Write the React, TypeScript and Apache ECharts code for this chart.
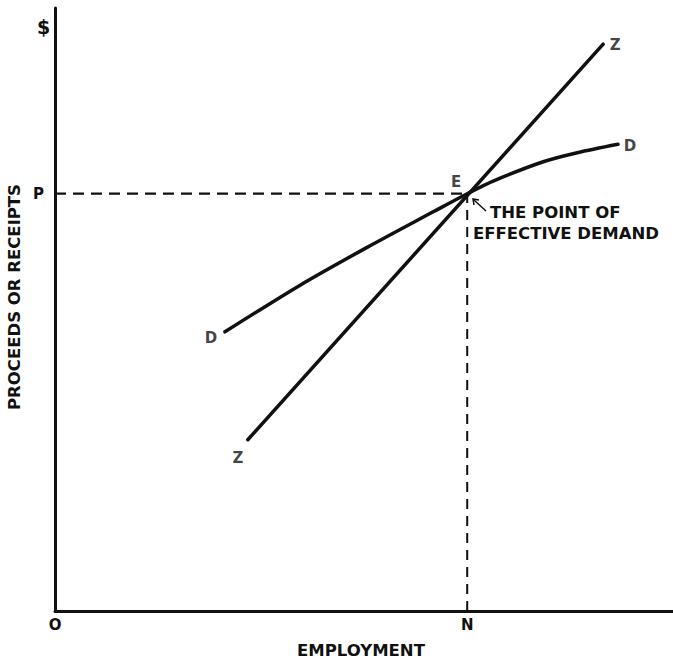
import React, { useEffect, useRef } from "react";
import * as echarts from "echarts";

// Employment (x) and proceeds (y) in arbitrary units, 0..100
const N_VALUE = 66.7;
const P_VALUE = 69.2;

const dCurveX = [27.5, 39.6, 50.5, 61.2, 66.7, 70.9, 79.0, 84.5, 91.1];
const dCurveY = [46.3, 54.0, 60.3, 66.2, 69.2, 71.3, 74.5, 76.0, 77.4];

const zLineX = [31.2, 88.7];
const zLineY = [28.4, 94.0];

const xTickValues = [0, N_VALUE];
const xTickLabels = ["O", "N"];
const yTickValues = [P_VALUE];
const yTickLabels = ["P"];

const FONT = "DejaVu Sans";
const INK = "#111";
const FS = 16.5;

export default function App() {
  const ref = useRef<HTMLDivElement>(null);
  useEffect(() => {
    if (!ref.current) return;
    const chart = echarts.init(ref.current, null, { renderer: "svg" });
    const lbl = (text: string, dx: number, dy: number, size = 15) => ({
      show: true,
      formatter: text,
      position: "inside",
      offset: [dx, dy],
      color: INK,
      fontFamily: FONT,
      fontWeight: "bold",
      fontSize: size,
    });
    chart.setOption({
      animation: false,
      backgroundColor: "#fff",
      grid: { left: 55, right: 0, top: 8, bottom: 48 },
      xAxis: {
        type: "value",
        min: 0,
        max: 100,
        axisLine: { show: true, lineStyle: { color: INK, width: 3 } },
        axisTick: { show: false },
        splitLine: { show: false },
        axisLabel: {
          customValues: xTickValues,
          formatter: (v: number) => xTickLabels[xTickValues.indexOf(v)] ?? "",
          color: INK,
          fontFamily: FONT,
          fontWeight: "bold",
          fontSize: 15,
          margin: 6,
        },
      },
      yAxis: {
        type: "value",
        min: 0,
        max: 100,
        axisLine: { show: true, lineStyle: { color: INK, width: 3 } },
        axisTick: { show: false },
        splitLine: { show: false },
        axisLabel: {
          customValues: yTickValues,
          formatter: (v: number) => yTickLabels[yTickValues.indexOf(v)] ?? "",
          color: INK,
          fontFamily: FONT,
          fontWeight: "bold",
          fontSize: 15,
          margin: 11,
        },
      },
      series: [
        {
          type: "line",
          data: [
            [0, P_VALUE],
            [N_VALUE, P_VALUE],
          ],
          symbol: "none",
          lineStyle: { color: INK, width: 2.2, type: [11, 7] },
          z: 1,
        },
        {
          type: "line",
          data: [
            [N_VALUE, 0],
            [N_VALUE, P_VALUE],
          ],
          symbol: "none",
          lineStyle: { color: INK, width: 2, type: [10, 7] },
          z: 1,
        },
        {
          type: "line",
          data: dCurveX.map((x, i) => [x, dCurveY[i]]),
          smooth: 0.3,
          symbol: "none",
          lineStyle: { color: INK, width: 3.5, cap: "round" },
          z: 3,
        },
        {
          type: "line",
          data: zLineX.map((x, i) => [x, zLineY[i]]),
          symbol: "none",
          lineStyle: { color: INK, width: 3.5, cap: "round" },
          z: 3,
        },
        {
          type: "scatter",
          symbolSize: 1,
          itemStyle: { color: "rgba(0,0,0,0)" },
          silent: true,
          z: 4,
          data: [
            { value: [dCurveX[0], dCurveY[0]], label: lbl("D", -14, 6) },
            { value: [dCurveX[dCurveX.length - 1], dCurveY[dCurveY.length - 1]], label: lbl("D", 12, 2) },
            { value: [zLineX[0], zLineY[0]], label: lbl("Z", -10, 18) },
            { value: [zLineX[1], zLineY[1]], label: lbl("Z", 12, 1) },
            { value: [N_VALUE, P_VALUE], label: lbl("E", -11, -12) },
          ],
        },
      ],
      graphic: [
        {
          type: "text",
          left: 37,
          top: 17,
          style: { text: "$", fill: INK, font: `bold 19px "${FONT}"` },
        },
        {
          type: "text",
          x: 14,
          y: 297,
          rotation: Math.PI / 2,
          style: {
            text: "PROCEEDS OR RECEIPTS",
            fill: INK,
            font: `bold ${FS}px "${FONT}"`,
            align: "center",
            verticalAlign: "middle",
          },
        },
        {
          type: "text",
          x: 361,
          y: 650,
          style: {
            text: "EMPLOYMENT",
            fill: INK,
            font: `bold ${FS}px "${FONT}"`,
            align: "center",
            verticalAlign: "middle",
          },
        },
        {
          type: "text",
          x: 490,
          y: 212,
          style: {
            text: "THE POINT OF",
            fill: INK,
            font: `bold ${FS}px "${FONT}"`,
            align: "left",
            verticalAlign: "middle",
          },
        },
        {
          type: "text",
          x: 473,
          y: 233,
          style: {
            text: "EFFECTIVE DEMAND",
            fill: INK,
            font: `bold ${FS}px "${FONT}"`,
            align: "left",
            verticalAlign: "middle",
          },
        },
        {
          type: "line",
          shape: { x1: 486, y1: 211, x2: 474, y2: 200 },
          style: { stroke: INK, lineWidth: 1.5 },
        },
        {
          type: "polyline",
          shape: { points: [[474, 205], [473, 199], [479, 200]] },
          style: { stroke: INK, lineWidth: 1.5, fill: "none" },
        },
      ],
    });
    return () => chart.dispose();
  }, []);
  return (
    <div
      ref={ref}
      style={{ position: "fixed", left: 0, top: 0, width: 673, height: 659 }}
    />
  );
}
